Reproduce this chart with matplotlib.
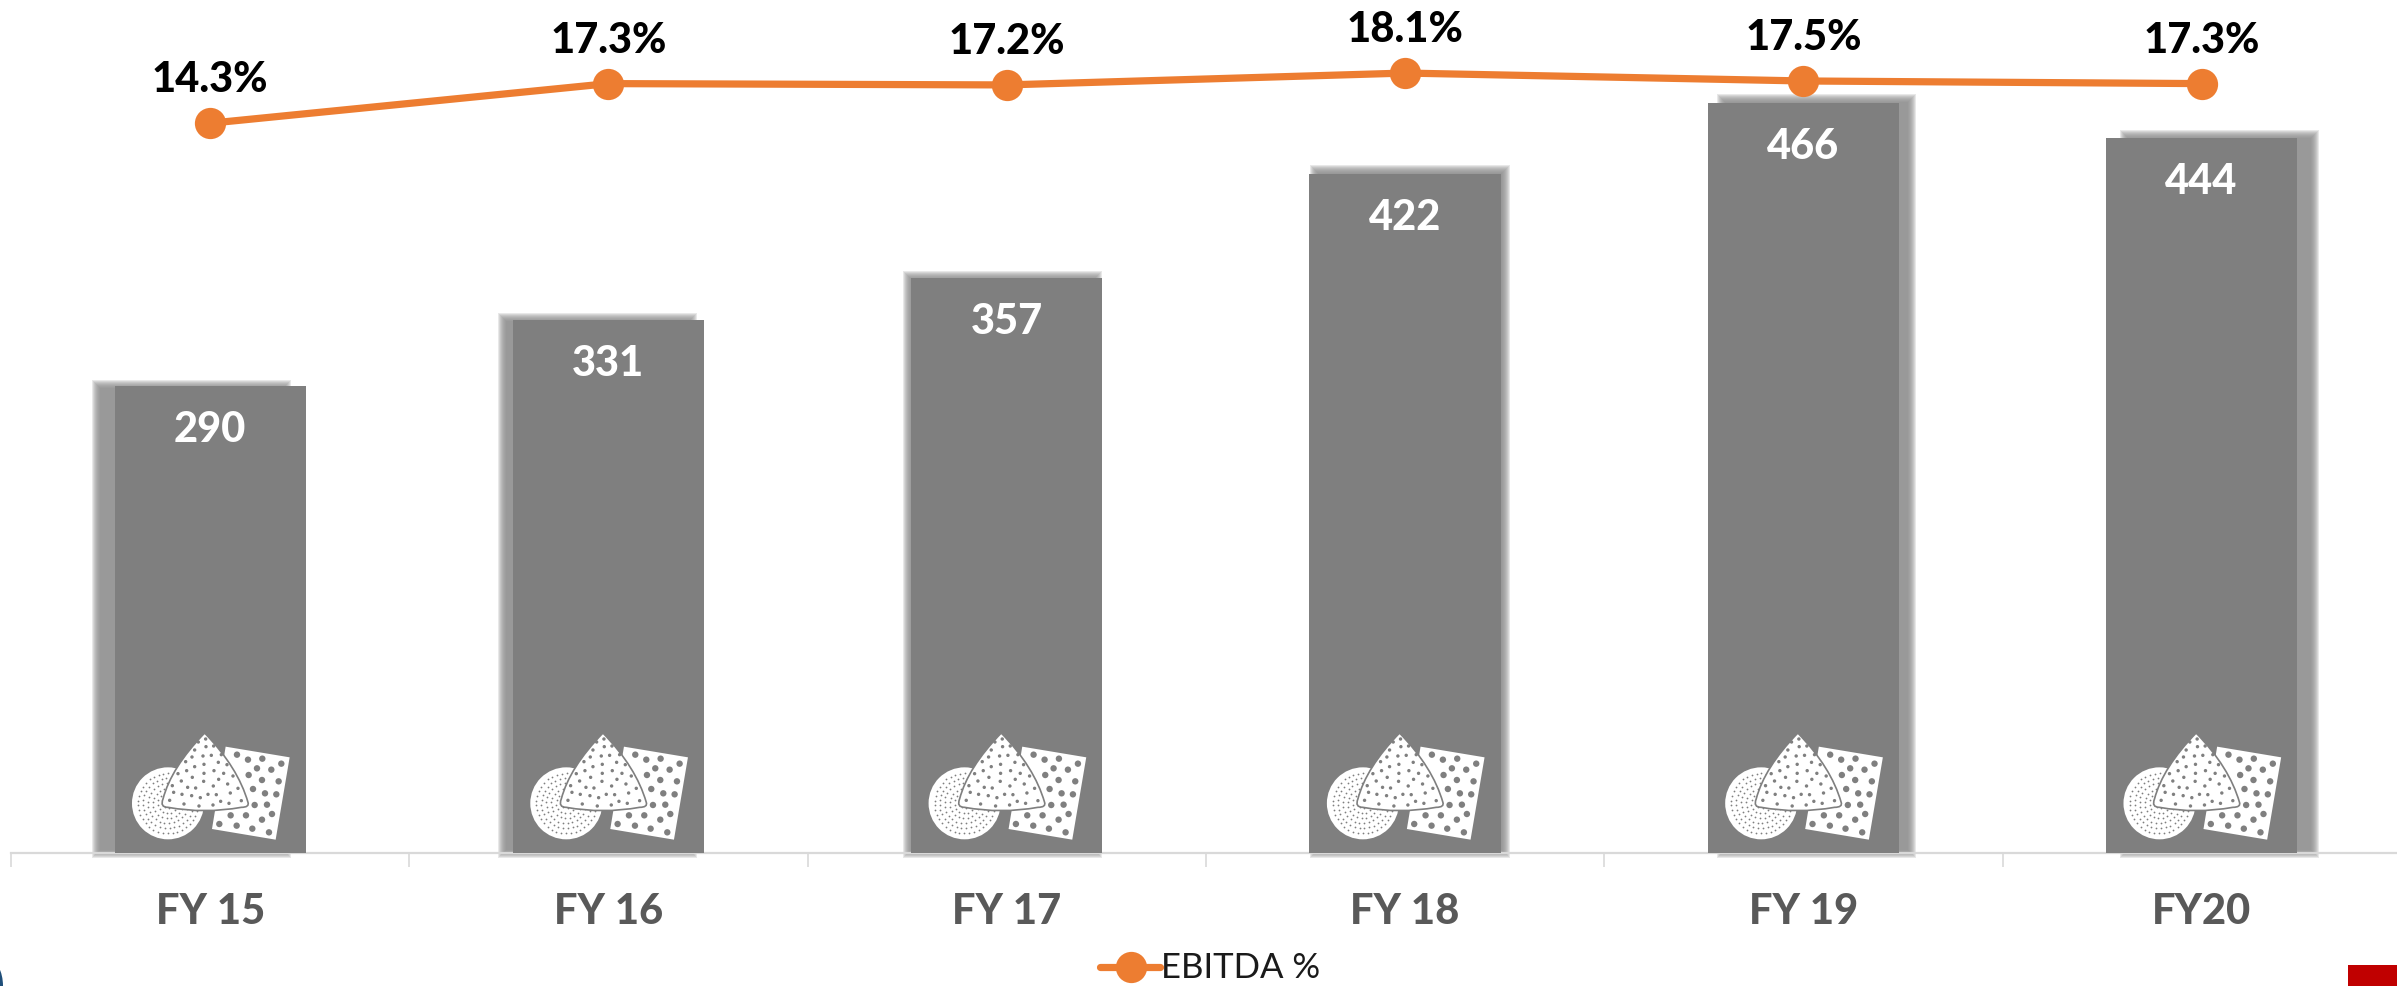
import numpy as np
import matplotlib
matplotlib.use("Agg")
import matplotlib.pyplot as plt
from matplotlib.patches import Circle, Polygon, PathPatch, Rectangle, Ellipse
from matplotlib.path import Path
from matplotlib.transforms import Affine2D
from matplotlib.lines import Line2D

# values
years = ["FY 15", "FY 16", "FY 17", "FY 18", "FY 19", "FY20"]
revenue = [290, 331, 357, 422, 466, 444]
ebitda = [14.3, 17.3, 17.2, 18.1, 17.5, 17.3]
ebitda_labels = ["14.3%", "17.3%", "17.2%", "18.1%", "17.5%", "17.3%"]

# shadow shift of each bar, px
shadow_shift = [-19, -11, -4, 5, 13, 18]
shadow_rise = [2, 3, 3, 5, 5, 4]

# icon points, px in the zoomed crop of the first bar
square_pts = [(498, 203), (690, 235), (648, 482), (457, 450)]
square_dots = [(532, 227), (565, 242), (608, 239), (665, 254), (592, 268), (635, 272),
               (567, 288), (607, 303), (657, 307), (580, 330), (616, 343), (650, 346),
               (585, 378), (622, 377), (637, 405), (513, 409), (559, 409), (607, 422),
               (479, 435), (531, 440), (578, 449), (628, 460)]
tri_dots = [(438, 180), (416, 189), (439, 203), (462, 201), (405, 213), (397, 234), (430, 231),
            (455, 229), (485, 227), (378, 248), (405, 263), (433, 256), (476, 250), (502, 257),
            (355, 284), (381, 275), (433, 283), (463, 275), (492, 283), (520, 291), (398, 295),
            (365, 306), (432, 307), (477, 301), (504, 315), (338, 320), (384, 325), (408, 327),
            (461, 321), (535, 328), (342, 340), (367, 346), (396, 350), (422, 356), (445, 346),
            (470, 347), (512, 342), (330, 364), (373, 375), (418, 381), (460, 378), (483, 367),
            (508, 373), (545, 365)]

W, H = 2397, 987
grey = "#7f7f7f"
orange = "#ed7d31"
base_y = 854
left_px = 11
step_px = 398.3

plt.rcParams["font.family"] = ["Lato", "DejaVu Sans"]

fig = plt.figure(figsize=(W / 100, H / 100), dpi=100)
ax = fig.add_axes([left_px / W, (H - base_y) / H, step_px * 6 / W, base_y / H])
ax.set_xlim(-0.5, 5.5)
ax.set_ylim(0, base_y / 1.61)
ax.patch.set_alpha(0)

for s in ["top", "left", "right"]:
    ax.spines[s].set_visible(False)
ax.spines["bottom"].set_color("#d9d9d9")
ax.spines["bottom"].set_linewidth(1.6)
ax.set_yticks([])
ax.set_xticks(np.arange(-0.5, 6, 1))
ax.set_xticklabels([])
ax.tick_params(axis="x", length=10, width=1.2, color="#d9d9d9")

x = np.arange(6)
bar_w = 0.48
px_x = 1 / step_px
px_y = 1 / 1.61

# soft shadow: stacked see-through bars, a little smaller each time
for i in range(6):
    sx = shadow_shift[i] * px_x
    for grow in [4, 3, 2, 1, 0, -1, -2, -3, -4]:
        ax.bar(x[i] + sx, revenue[i] + (shadow_rise[i] + grow) * px_y + (grow + 1) * px_y, bar_w + 2 * grow * px_x,
               bottom=-(grow + 1) * px_y, color="#8c8c8c", alpha=0.2, zorder=2, linewidth=0, clip_on=False)

bars = ax.bar(x, revenue, bar_w, color=grey, zorder=3, linewidth=0)

for i in range(6):
    ax.annotate(str(revenue[i]), (x[i], revenue[i]), xytext=(0, -43 * 0.72), textcoords="offset points",
                ha="center", va="center", color="white", fontsize=30, fontweight="black", zorder=6)
    ax.text(x[i], -58 * px_y, years[i], ha="center", va="center", color="#595959",
            fontsize=30, fontweight="black", clip_on=False)


def draw_icon(cx):
    # crop px -> figure px, relative to the bar centre and base line
    def to_px(p):
        return (cx + 60 + p[0] / 3 - 210.5, H - (680 + p[1] / 3))

    tr = Affine2D()
    ax.add_patch(Circle(to_px((325, 373)), 36, color="white", transform=tr, zorder=4, linewidth=0))
    c = to_px((325, 373))
    for r, n in [(5, 7), (10, 14), (15, 20), (20, 26), (25, 32), (30, 38)]:
        ang = np.linspace(0, 2 * np.pi, n, endpoint=False) + r
        ax.scatter(c[0] + r * np.cos(ang), c[1] + r * np.sin(ang), s=1.6, color=grey, linewidths=0,
                   transform=tr, zorder=4)
    ax.add_patch(Polygon([to_px(p) for p in square_pts], closed=True, color="white", transform=tr,
                         zorder=4, linewidth=0))
    for p in square_dots:
        ax.add_patch(Circle(to_px(p), 3.2, color=grey, transform=tr, zorder=4, linewidth=0))
    # rounded triangle
    verts = [(435, 162), (535, 265), (565, 370), (570, 385), (545, 385), (435, 405), (325, 385),
             (300, 385), (310, 360), (335, 265), (435, 162)]
    codes = [Path.MOVETO] + [Path.CURVE3] * 10
    pth = Path([to_px(p) for p in verts], codes)
    ax.add_patch(PathPatch(pth, facecolor="white", edgecolor=grey, linewidth=1.2, transform=tr, zorder=5))
    for p in tri_dots:
        ax.add_patch(Circle(to_px(p), 1.7, color=grey, transform=tr, zorder=5, linewidth=0))


for i in range(6):
    draw_icon(left_px + step_px * (i + 0.5))

# EBITDA line on its own scale
ax2 = ax.twinx()
ax2.set_ylim(-40.99, 23.71)
ax2.axis("off")
ax2.plot(x, ebitda, color=orange, lw=5.2, marker="o", ms=22.5, mew=0, zorder=7, solid_capstyle="round")
for i in range(6):
    ax2.annotate(ebitda_labels[i], (x[i], ebitda[i]), xytext=(0, 31.5), textcoords="offset points",
                 ha="center", va="center", color="black", fontsize=30, fontweight="black")

# legend
fig.add_artist(Line2D([1100 / W, 1160 / W], [(H - 968) / H] * 2, color=orange, lw=5.2,
                      solid_capstyle="round"))
fig.add_artist(Line2D([1131 / W], [(H - 968) / H], color=orange, marker="o", ms=22.5, mew=0))
fig.text(1161 / W, (H - 968) / H, "EBITDA %", ha="left", va="center", fontsize=25, fontweight="normal", color="#1a1a1a")

# corner bits of the slide
fig.add_artist(Rectangle((2348 / W, 0), 49 / W, 21 / H, color="#c00000", transform=fig.transFigure, linewidth=0))
fig.add_artist(Ellipse((-12 / W, 0), 30 / W, 54 / H, color="#1f4e79", transform=fig.transFigure, linewidth=0))

fig.savefig("out.png", dpi=100)
